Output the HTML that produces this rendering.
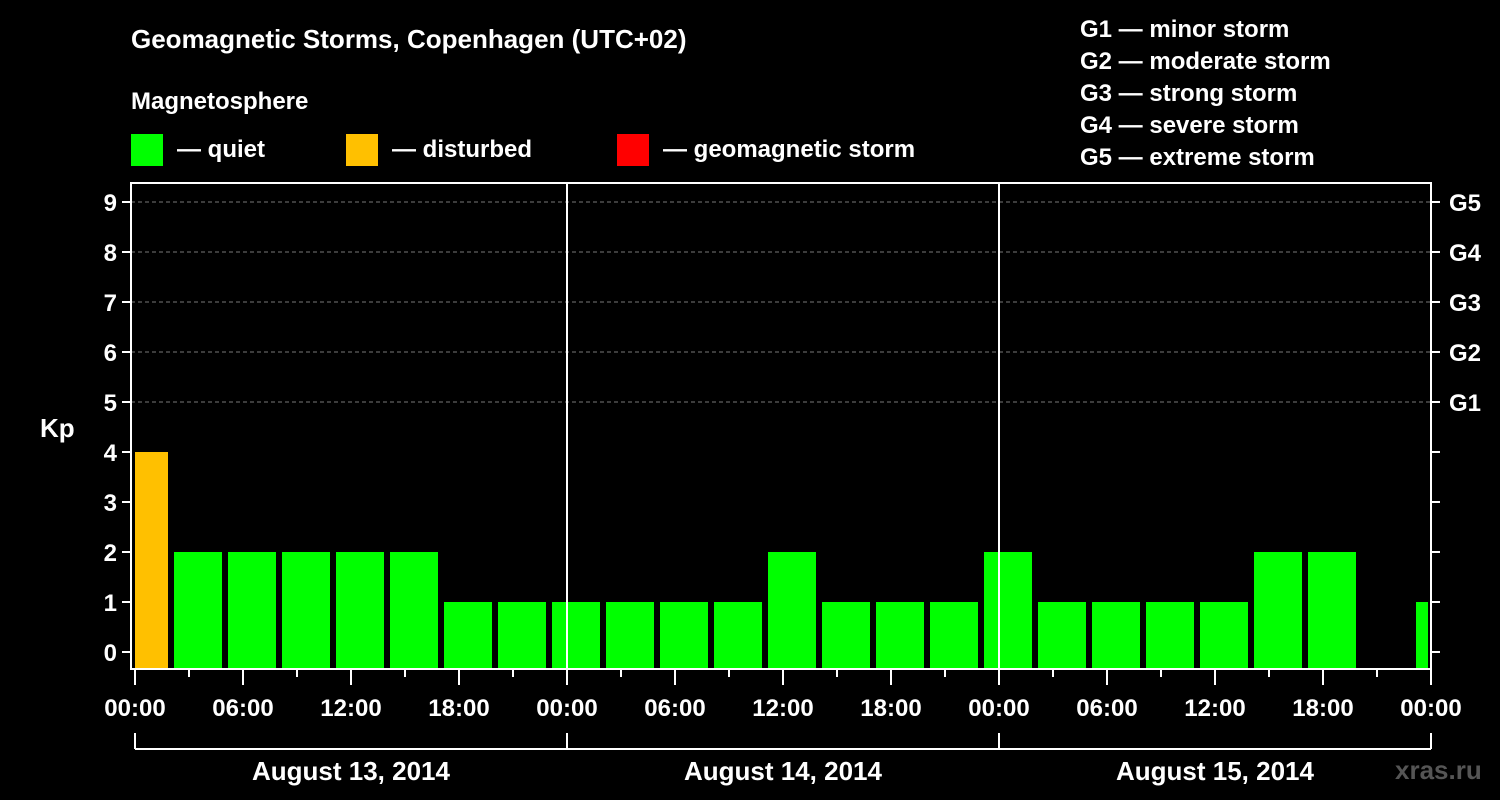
<!DOCTYPE html>
<html><head><meta charset="utf-8"><style>
body{margin:0;background:#000;}
svg{display:block;font-family:"Liberation Sans",Arial,sans-serif;font-weight:bold;}
</style></head><body>
<svg width="1500" height="800" viewBox="0 0 1500 800">
<rect width="1500" height="800" fill="#000"/>
<text x="131" y="48" fill="#fff" font-size="26">Geomagnetic Storms, Copenhagen (UTC+02)</text>
<text x="131" y="109" fill="#fff" font-size="24">Magnetosphere</text>
<g><rect x="131" y="134" width="32" height="32" fill="#00ff00"/><text x="177" y="157" fill="#fff" font-size="24">— quiet</text></g>
<g><rect x="346" y="134" width="32" height="32" fill="#ffc000"/><text x="392" y="157" fill="#fff" font-size="24">— disturbed</text></g>
<g><rect x="617" y="134" width="32" height="32" fill="#ff0000"/><text x="663" y="157" fill="#fff" font-size="24">— geomagnetic storm</text></g>
<g fill="#fff" font-size="24">
<text x="1080" y="37">G1 — minor storm</text>
<text x="1080" y="69">G2 — moderate storm</text>
<text x="1080" y="101">G3 — strong storm</text>
<text x="1080" y="133">G4 — severe storm</text>
<text x="1080" y="165">G5 — extreme storm</text>
</g>
<text x="40" y="437" fill="#fff" font-size="26">Kp</text>
<text x="1395" y="779" fill="#555" font-size="26">xras.ru</text>
<g id="plot"></g>
</svg>
<script>
const kpValues=[4,2,2,2,2,2,1,1,1,1,1,1,2,1,1,1,2,1,1,1,1,2,2,null,1];
const firstSlotHour=-1;
const yTicks=[0,1,2,3,4,5,6,7,8,9];
const gLabels=["G1","G2","G3","G4","G5"];
const xTickLabels=["00:00","06:00","12:00","18:00","00:00","06:00","12:00","18:00","00:00","06:00","12:00","18:00","00:00"];
const dayLabels=["August 13, 2014","August 14, 2014","August 15, 2014"];
const NS="http://www.w3.org/2000/svg";
const g=document.getElementById('plot');
const X0=135,PXH=18,L=131,R=1431,T=183,B=669;
const xs=h=>X0+h*PXH, ys=v=>652-50*v;
function mk(t,a,p){const e=document.createElementNS(NS,t);for(const k in a)e.setAttribute(k,a[k]);(p||g).appendChild(e);return e;}
// grid
[5,6,7,8,9].forEach(v=>{const e=mk('line',{x1:L,x2:R,y1:ys(v),y2:ys(v),stroke:'#777','stroke-dasharray':'4,3'});

});
// bars
kpValues.forEach((v,i)=>{if(v===null)return;const h0=firstSlotHour+3*i;let x1=xs(h0)+3,x2=xs(h0+3)-3;x1=Math.max(x1,X0);x2=Math.min(x2,R-3);
const c=v>=5?'#ff0000':(v>=4?'#ffc000':'#00ff00');
const e=mk('rect',{x:x1,y:ys(v),width:x2-x1,height:668-ys(v),fill:c});

});
// day separators
[1,2].forEach(d=>{const e=mk('line',{x1:xs(24*d),x2:xs(24*d),y1:T,y2:B,stroke:'#fff','stroke-width':2});

});
// frame
const fr=mk('rect',{x:L,y:T,width:R-L,height:B-T,fill:'none',stroke:'#fff','stroke-width':2});


// y ticks
yTicks.forEach(v=>{mk('line',{x1:L-9,x2:L,y1:ys(v),y2:ys(v),stroke:'#fff','stroke-width':2});mk('line',{x1:R,x2:R+9,y1:ys(v),y2:ys(v),stroke:'#fff','stroke-width':2});
const t=mk('text',{x:L-14,y:ys(v)+9,fill:'#fff','font-size':24,'text-anchor':'end'});t.textContent=v;

});
gLabels.forEach((s,i)=>{const t=mk('text',{x:R+18,y:ys(5+i)+9,fill:'#fff','font-size':24});t.textContent=s;

});
// x ticks
for(let h=0;h<=72;h+=3){const long=h%6===0;mk('line',{x1:xs(h),x2:xs(h),y1:B,y2:B+(long?16:8),stroke:'#fff','stroke-width':2});}
xTickLabels.forEach((s,i)=>{const t=mk('text',{x:xs(6*i),y:716,fill:'#fff','font-size':24,'text-anchor':'middle'});t.textContent=s;

});
// date bracket
mk('line',{x1:X0,x2:R,y1:749,y2:749,stroke:'#fff','stroke-width':2});
for(let d=0;d<=3;d++)mk('line',{x1:xs(24*d),x2:xs(24*d),y1:733,y2:749,stroke:'#fff','stroke-width':2});
dayLabels.forEach((s,i)=>{const t=mk('text',{x:xs(24*i+12),y:780,fill:'#fff','font-size':26,'text-anchor':'middle'});t.textContent=s;

});
</script>
</body></html>
